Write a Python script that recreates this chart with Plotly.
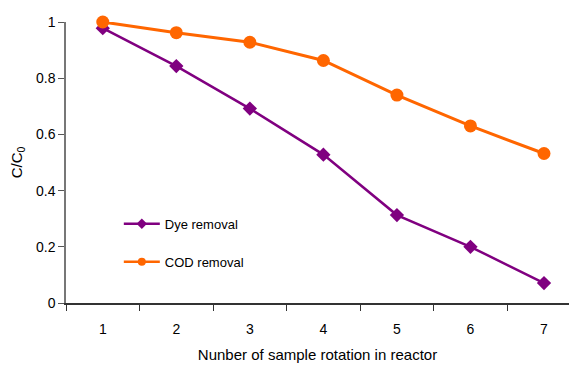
import plotly.graph_objects as go

rotations = [1, 2, 3, 4, 5, 6, 7]
dye_removal = [0.978, 0.843, 0.692, 0.528, 0.313, 0.200, 0.071]
cod_removal = [1.000, 0.962, 0.928, 0.863, 0.740, 0.630, 0.532]

PURPLE = "#800080"
ORANGE = "#FF6600"
FONT = "Liberation Sans, Arial, sans-serif"

fig = go.Figure()
fig.add_trace(go.Scatter(
    x=rotations, y=dye_removal, name="Dye removal", mode="lines+markers",
    line=dict(color=PURPLE, width=2.5),
    marker=dict(symbol="diamond", size=11, color=PURPLE),
    cliponaxis=False, showlegend=False,
))
fig.add_trace(go.Scatter(
    x=rotations, y=cod_removal, name="COD removal", mode="lines+markers",
    line=dict(color=ORANGE, width=3),
    marker=dict(symbol="circle", size=13, color=ORANGE),
    cliponaxis=False, showlegend=False,
))

# legend entries with smaller symbols than the plotted markers
fig.add_trace(go.Scatter(
    x=[None], y=[None], name="Dye removal", mode="lines+markers",
    line=dict(color=PURPLE, width=2.5),
    marker=dict(symbol="diamond", size=8, color=PURPLE),
    legendgroup="dye",
))
fig.add_trace(go.Scatter(
    x=[None], y=[None], name="COD removal", mode="lines+markers",
    line=dict(color=ORANGE, width=2.5),
    marker=dict(symbol="circle", size=8, color=ORANGE),
    legendgroup="cod",
))

fig.update_layout(
    width=569, height=370,
    margin=dict(l=66, r=0, t=22, b=67),
    paper_bgcolor="white", plot_bgcolor="white",
    font=dict(family=FONT, size=14, color="black"),
    showlegend=True,
    legend=dict(
        x=0.105, y=0.335, xanchor="left", yanchor="top",
        bgcolor="rgba(0,0,0,0)", font=dict(size=13),
        traceorder="grouped", tracegroupgap=18,
        itemwidth=36,
    ),
    xaxis=dict(
        range=[0.5, 7.34], tickmode="array", tickvals=rotations,
        ticktext=[str(v) for v in rotations],
        ticks="", showgrid=False, zeroline=False,
        showline=True, linecolor="#333333", linewidth=1.5,
        minor=dict(tickmode="linear", tick0=0.5, dtick=1, ticks="outside",
                   ticklen=6, tickcolor="#333333", tickwidth=1, showgrid=False),
        ticklabelstandoff=12,
        title=dict(text="Nunber of sample rotation in reactor", standoff=14,
                   font=dict(size=15)),
    ),
    yaxis=dict(
        range=[0, 1], tickmode="array", tickvals=[0, 0.2, 0.4, 0.6, 0.8, 1],
        ticktext=["0", "0.2", "0.4", "0.6", "0.8", "1"],
        ticks="outside", ticklen=6, tickcolor="#555555",
        showgrid=False, zeroline=False,
        showline=True, linecolor="#777777", linewidth=1.5,
        title=dict(text="C/C<sub>0</sub>", standoff=10, font=dict(size=15)),
    ),
)

fig.write_html("out.html")
